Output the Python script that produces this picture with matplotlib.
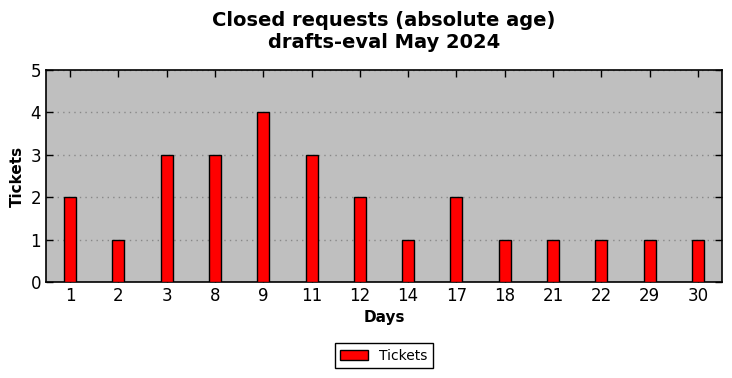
import numpy as np
import matplotlib
matplotlib.use("Agg")
import matplotlib.pyplot as plt

# Data
days = ["1", "2", "3", "8", "9", "11", "12", "14", "17", "18", "21", "22", "29", "30"]
tickets = [2, 1, 3, 3, 4, 3, 2, 1, 2, 1, 1, 1, 1, 1]

fig = plt.figure(figsize=(7.32, 3.78), dpi=100)
ax = fig.add_axes([46 / 732, 1 - 282 / 378, (722 - 46) / 732, (282 - 70) / 378])
ax.set_facecolor("#bfbfbf")

x = np.arange(len(days))
ax.bar(x, tickets, width=0.25, color="red", edgecolor="black", linewidth=1,
       label="Tickets", zorder=3)

ax.set_xlim(-0.5, len(days) - 0.5)
ax.set_ylim(0, 5)
ax.set_xticks(x)
ax.set_xticklabels(days)
ax.set_yticks(range(6))
ax.tick_params(direction="in", top=True, right=True, labelsize=12, length=5, width=1)
ax.yaxis.grid(True, linestyle=(0, (1, 3)), color="#888888", linewidth=1, zorder=0)
for s in ax.spines.values():
    s.set_linewidth(1.2)

ax.set_xlabel("Days", fontsize=11, fontweight="bold")
ax.set_ylabel("Tickets", fontsize=11, fontweight="bold")
ax.set_title("Closed requests (absolute age)\ndrafts-eval May 2024",
             fontsize=14, fontweight="bold", pad=16)

leg = ax.legend(loc="upper center", bbox_to_anchor=(0.5, -0.255), fontsize=10,
                fancybox=False, edgecolor="black", framealpha=1)
leg.get_frame().set_linewidth(1)

fig.savefig("out.png", dpi=100)
